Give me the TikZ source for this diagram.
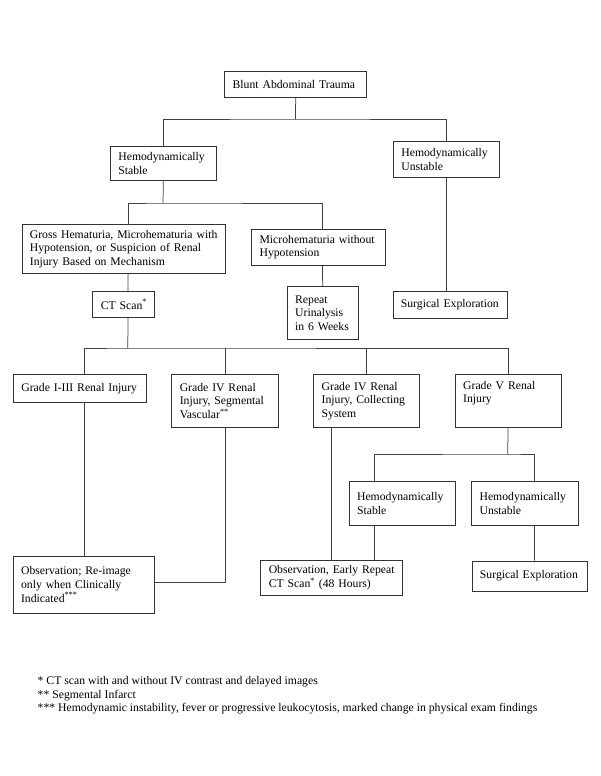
\documentclass[tikz,border=0pt]{standalone}
\usepackage{fontspec}
\setmainfont{Liberation Serif}
\usetikzlibrary{positioning}
\newcommand{\chartfont}{\fontsize{11.7}{13.6}\selectfont\hyphenpenalty=10000\relax}

\begin{document}
\begin{tikzpicture}[
  x=1pt, y=-1pt,
  box/.style={rectangle, draw=black!80, line width=0.75pt, anchor=north west,
              inner xsep=8pt, inner ysep=4pt, align=left, font=\chartfont},
  link/.style={draw=black!75, line width=0.75pt}
]
  \useasboundingbox (0,0) rectangle (600,776);

  %% --- Row 0: trauma ---
  \node[box, text width=126pt, minimum height=26pt]
    (trauma) at (224.3,71) {Blunt Abdominal Trauma};

  %% --- Row 1: haemodynamic state ---
  \node[box, text width=90pt, minimum height=34pt]
    (stable) at (110,146) {Hemodynamically\\Stable};
  \node[box, text width=90pt, minimum height=36pt]
    (unstable) at (393,141) {Hemodynamically\\Unstable};

  %% --- Row 2: findings ---
  \node[box, text width=187.5pt, minimum height=49pt]
    (gross) at (21.5,224) {Gross Hematuria, Microhematuria with\\Hypotension, or Suspicion of Renal\\Injury Based on Mechanism};
  \node[box, text width=117.4pt, minimum height=36pt]
    (micro) at (251.2,229) {Microhematuria without\\Hypotension};

  %% --- Row 3: first actions ---
  \node[box, text width=46pt, minimum height=26pt]
    (ctscan) at (92.4,291) {\mbox{CT Scan\textsuperscript{*}}};
  \node[box, text width=55pt, minimum height=53pt]
    (urine) at (286.8,286) {Repeat\\Urinalysis\\in 6 Weeks};
  \node[box, text width=98.5pt, minimum height=26.5pt]
    (surgery) at (392.5,291) {\mbox{Surgical Exploration}};

  %% --- Row 4: injury grades ---
  \node[box, text width=116.7pt, minimum height=28pt]
    (gradeone) at (13,374) {Grade I-III Renal Injury};
  \node[box, text width=91pt, minimum height=53pt]
    (gradefourv) at (171.4,374) {Grade IV Renal\\Injury, Segmental\\Vascular\textsuperscript{**}};
  \node[box, text width=89.8pt, minimum height=53pt]
    (gradefourc) at (313.3,374) {Grade IV Renal\\Injury, Collecting\\System};
  \node[box, text width=89.8pt, inner ysep=7pt, text height=8pt, text depth=31pt]
    (gradefive) at (454.8,374) {Grade V Renal\\Injury};

  %% --- Row 5: grade V split ---
  \node[box, text width=90pt, minimum height=43.7pt]
    (stabletwo) at (348.7,481) {Hemodynamically\\Stable};
  \node[box, text width=90.8pt, minimum height=43.7pt]
    (unstabletwo) at (471.2,481) {Hemodynamically\\Unstable};

  %% --- Row 6: outcomes ---
  \node[box, text width=125.6pt, minimum height=57.3pt]
    (observe) at (12.7,555.5) {Observation; Re-image\\only when Clinically\\Indicated\textsuperscript{***}};
  \node[box, text width=125.4pt, minimum height=35pt]
    (earlyct) at (260.4,560) {\mbox{Observation, Early Repeat}\\CT Scan\textsuperscript{*} (48 Hours)};
  \node[box, text width=99.4pt, minimum height=30.2pt]
    (surgerytwo) at (471.6,560.5) {\mbox{Surgical Exploration}};

  %% --- Footnotes ---
  \node[anchor=north west, inner sep=0pt, align=left,
        font=\fontsize{11.7}{13.4}\selectfont]
    (notes) at (37.5,676.5)
    {* CT scan with and without IV contrast and delayed images\\
     ** Segmental Infarct\\
     *** Hemodynamic instability, fever or progressive leukocytosis, marked change in physical exam findings};

  %% --- Connectors ---
  \coordinate (split1) at (295.5,119);
  \coordinate (split2) at (163,203);
  \coordinate (split3) at (127.75,348);
  \coordinate (split4) at (507.7,454);

  %% trauma -> stable / unstable
  \draw[link] (trauma.south) -- (split1);
  \draw[link] (stable.north) |- (split1) -| (unstable.north);

  %% stable -> findings
  \draw[link] (stable.south) -- (split2);
  \draw[link] ([xshift=4.5pt]gross.north) |- (split2) -| ([xshift=4.2pt]micro.north);

  %% findings -> first actions
  \draw[link] ([xshift=4.5pt]gross.south) -- ([xshift=4.3pt]ctscan.north);
  \draw[link] ([xshift=4.2pt]micro.south) -- (urine.north);
  \draw[link] (unstable.south) -- ([xshift=-3.75pt]surgery.north);

  %% CT scan -> grades
  \draw[link] ([xshift=4.3pt]ctscan.south) -- (split3);
  \draw[link] ([xshift=4.25pt]gradeone.north) |- (split3) -| (gradefive.north);
  \foreach \g in {gradefourv,gradefourc}
    \draw[link] (\g.north) -- (\g.north |- split3);

  %% grades -> outcomes
  \draw[link] ([xshift=4.25pt]gradeone.south) -- ([xshift=4.25pt]gradeone.south |- observe.north);
  \draw[link] (gradefourv.south) |- ([yshift=2.5pt]observe.east);
  \draw[link] ([xshift=-35.3pt]gradefourc.south) -- ([xshift=-35.3pt]gradefourc.south |- earlyct.north);

  %% grade V -> stable / unstable -> outcomes
  \draw[link] (gradefive.south) -- (split4);
  \draw[link] ([xshift=-27.3pt]stabletwo.north) |- (split4) -| ([xshift=9.4pt]unstabletwo.north);
  \draw[link] ([xshift=-27.3pt]stabletwo.south) -- ([xshift=-27.3pt]stabletwo.south |- earlyct.north);
  \draw[link] ([xshift=9.4pt]unstabletwo.south) -- ([xshift=4.7pt]surgerytwo.north);

\end{tikzpicture}
\end{document}
